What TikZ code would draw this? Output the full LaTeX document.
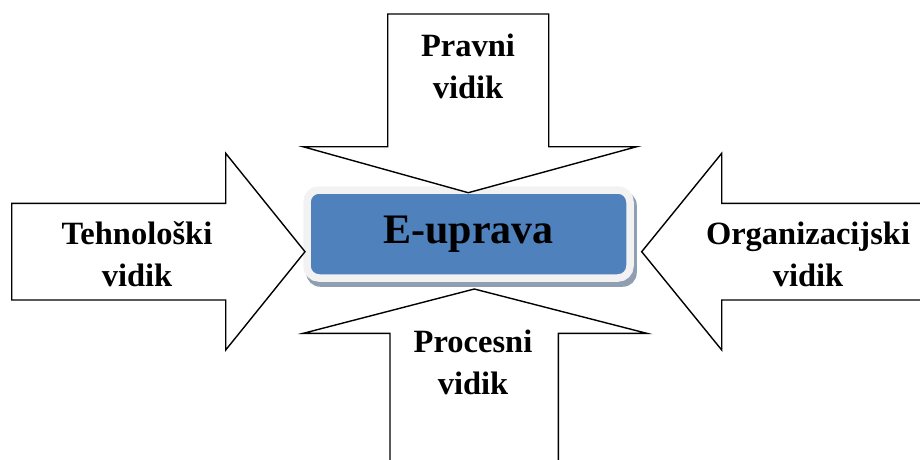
\documentclass[tikz,border=0pt]{standalone}
\usepackage{fontspec}
\setmainfont{Liberation Serif}
\usetikzlibrary{positioning,backgrounds,calc}
\definecolor{euBlue}{HTML}{4F81BD}
\definecolor{euRim}{HTML}{F2F2F2}
\definecolor{euShade}{HTML}{909EB2}
\tikzset{
  blockarrow/.style={draw=black,fill=white,line width=1.4pt,line join=miter},
  vidlbl/.style    ={align=center,font=\fontsize{32.5}{42}\selectfont\bfseries,
                     inner sep=0pt},
  eubox/.style     ={draw=euRim,line width=7.5pt,fill=euBlue,rounded corners=12pt,
                     minimum width=323pt,minimum height=88pt,inner sep=0pt,
                     font=\fontsize{42}{42}\selectfont\bfseries},
}
\begin{document}
\begin{tikzpicture}[x=1pt,y=-1pt]
\useasboundingbox (0,0) rectangle (920,459);

% central box with its shadow
\node[eubox] (eup) at (468.5,234) {E-uprava};
\begin{scope}[on background layer]
  \fill[euShade,rounded corners=14pt]
    ($(eup.north west)+(3,5)$) rectangle ($(eup.south east)+(3,5)$);
\end{scope}

% block arrows
\draw[blockarrow] (387.7,14) -- (548.7,14) -- (548.7,146.7) -- (636.7,146.7)
  -- (468.3,192.7) -- (303,146.7) -- (387.7,146.7) -- cycle;
\draw[blockarrow] (390,475) -- (390,333.3) -- (303.3,333.3) -- (474.3,289)
  -- (646.7,333.3) -- (558.3,333.3) -- (558.3,475) -- cycle;
\draw[blockarrow] (11.7,203.3) -- (225.7,203.3) -- (225.7,153.3) -- (305,251.7)
  -- (225.7,350) -- (225.7,300) -- (11.7,300) -- cycle;
\draw[blockarrow] (935,203.3) -- (721.7,203.3) -- (721.7,153.3) -- (641.7,251.7)
  -- (721.7,350) -- (721.7,300) -- (935,300) -- cycle;

% labels
\node[vidlbl] (pravni)   at (468,66)    {Pravni\\vidik};
\node[vidlbl] (procesni) at (473,362)   {Procesni\\vidik};
\node[vidlbl] (tehno)    at (137,254)   {Tehnološki\\vidik};
\node[vidlbl] (organ)    at (808,254)   {Organizacijski\\vidik};
\end{tikzpicture}
\end{document}
